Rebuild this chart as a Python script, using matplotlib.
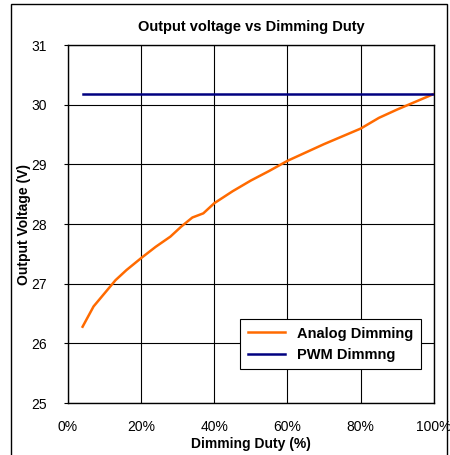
import matplotlib
matplotlib.use("Agg")
import matplotlib.pyplot as plt
from matplotlib.patches import Rectangle
from matplotlib.ticker import PercentFormatter

plt.rcParams['font.family'] = ['Liberation Sans', 'DejaVu Sans']

# Datos
duty_analog = [4, 7, 10, 13, 16, 20, 24, 28, 31, 34, 37, 40, 45, 50,
               55, 60, 65, 70, 75, 80, 85, 90, 95, 100]
vout_analog = [26.28, 26.62, 26.84, 27.06, 27.23, 27.43, 27.62, 27.79,
               27.96, 28.11, 28.18, 28.35, 28.55, 28.73, 28.89, 29.06,
               29.20, 29.34, 29.47, 29.60, 29.78, 29.92, 30.05, 30.18]
duty_pwm = [4, 100]
vout_pwm = [30.18, 30.18]

x_ticks = [0, 20, 40, 60, 80, 100]
y_ticks = [25, 26, 27, 28, 29, 30, 31]

fig = plt.figure(figsize=(4.5, 4.55), dpi=100)
ax = fig.add_axes([0.151, 0.114, 0.813, 0.787])

ax.plot(duty_analog, vout_analog, color='#FF6A00', lw=1.8,
        label='Analog Dimming', zorder=3)
ax.plot(duty_pwm, vout_pwm, color='#000080', lw=1.8,
        label='PWM Dimmng', zorder=3)

ax.set_xlim(0, 100)
ax.set_ylim(25, 31)
ax.set_xticks(x_ticks)
ax.set_yticks(y_ticks)
ax.xaxis.set_major_formatter(PercentFormatter(decimals=0))
ax.grid(True, color='black', lw=0.8)
ax.set_axisbelow(True)
ax.tick_params(axis='x', length=0, pad=12, labelsize=10)
ax.tick_params(axis='y', length=3, pad=12, labelsize=10)
for s in ax.spines.values():
    s.set_linewidth(1.0)

ax.set_title('Output voltage vs Dimming Duty', fontsize=10.5,
             fontweight='bold', pad=10)
ax.set_xlabel('Dimming Duty (%)', fontsize=10, fontweight='bold', labelpad=2)
ax.set_ylabel('Output Voltage (V)', fontsize=10, fontweight='bold')
ax.yaxis.set_label_coords(-0.101, 0.5)

leg = ax.legend(loc='lower right', bbox_to_anchor=(0.964, 0.095),
                borderaxespad=0, fancybox=False, framealpha=1,
                edgecolor='black', prop={'weight': 'bold', 'size': 10.5},
                handlelength=2.6, borderpad=0.5, labelspacing=0.5)
leg.get_frame().set_linewidth(0.8)

# Marco exterior de la figura
fig.patches.append(Rectangle((11 / 450, -0.05), 436 / 450, 1.05 - 4 / 455,
                             transform=fig.transFigure, fill=False,
                             edgecolor='black', lw=1.0))

fig.savefig('out.png', dpi=100)
